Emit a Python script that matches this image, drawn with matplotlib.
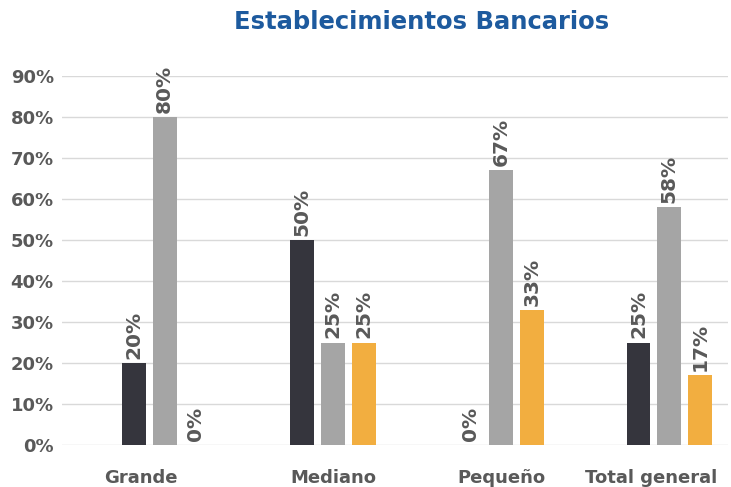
import numpy as np
import matplotlib.pyplot as plt

categories = ['Grande', 'Mediano', 'Pequeño', 'Total general']
serie_1 = [0.20, 0.50, 0.00, 0.25]
serie_2 = [0.80, 0.25, 0.67, 0.58]
serie_3 = [0.00, 0.25, 0.33, 0.17]
y_ticks = [0.0, 0.1, 0.2, 0.3, 0.4, 0.5, 0.6, 0.7, 0.8, 0.9]
# desplazamiento de las etiquetas de categoría respecto al centro del grupo
label_shift = [-0.142, 0.0, 0.0, -0.107]

colors = ['#35353D', '#A5A5A5', '#F2AE40']
text_gray = '#595959'

plt.rcParams['font.family'] = ['DejaVu Sans']

fig = plt.figure(figsize=(7.31, 4.87), dpi=100)
ax = fig.add_axes([0.085, 0.086, 0.911, 0.758])

x = np.arange(len(categories))
width = 0.142
step = 0.183

for k, (vals, col) in enumerate(zip([serie_1, serie_2, serie_3], colors)):
    pos = x + (k - 1) * step
    ax.bar(pos, vals, width=width, color=col, zorder=3)
    for px, v in zip(pos, vals):
        ax.text(px, v + 0.01, f'{v:.0%}', rotation=90, ha='center', va='bottom',
                fontsize=14.5, fontweight='bold', color=text_gray)

ax.set_xlim(-0.61, 3.35)
ax.set_ylim(0, 0.9)
ax.set_yticks(y_ticks)
ax.set_yticklabels([f'{t:.0%}' for t in y_ticks])
ax.set_xticks(x + np.array(label_shift))
ax.set_xticklabels(categories)
ax.tick_params(axis='both', length=0, labelsize=13, labelcolor=text_gray)
ax.tick_params(axis='x', pad=17)
ax.tick_params(axis='y', pad=6)
for lbl in ax.get_xticklabels() + ax.get_yticklabels():
    lbl.set_fontweight('bold')

ax.grid(axis='y', color='#D9D9D9', linewidth=1, zorder=0)
for s in ax.spines.values():
    s.set_visible(False)

fig.text(422 / 731, 0.955, 'Establecimientos Bancarios', ha='center', va='center',
         fontsize=17.5, fontweight='bold', color='#1D5A9E')

plt.savefig('out.png', dpi=100)
plt.close()
